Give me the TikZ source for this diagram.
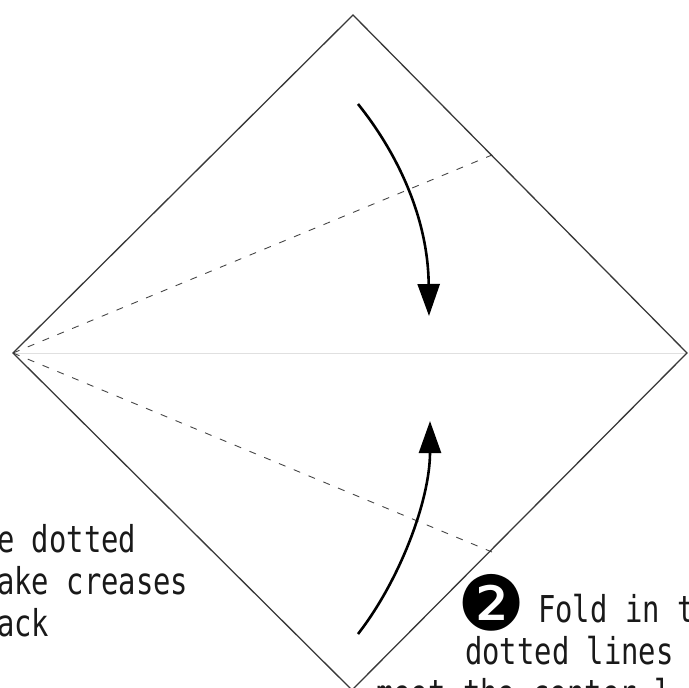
\documentclass[tikz,border=0pt]{standalone}
\usepackage{fontspec}
\usepackage{tikz}
\usetikzlibrary{arrows.meta, positioning, calc}
\newfontfamily\labelfont{DejaVu Sans Mono}
\newfontfamily\dingfont{DejaVu Sans}

\tikzset{
  edge/.style={draw=black!78, line width=1.3pt, line join=miter},
  centre/.style={draw=black!12, line width=1pt},
  crease/.style={draw=black!72, line width=0.9pt, dash pattern=on 7pt off 9pt},
  foldarrow/.style={line width=2.6pt, -{Triangle[length=32pt,width=22pt]}},
  caption/.style={font=\labelfont\fontsize{37}{43}\selectfont, xscale=0.78,
    anchor=base west, inner sep=0pt, text=black!90}
}

\begin{document}
\begin{tikzpicture}[x=1pt, y=-1pt]
  \useasboundingbox (0,0) rectangle (688,688);
  \clip (0,0) rectangle (688,688);

  % Square corners
  \coordinate (T) at (353,15);
  \coordinate (L) at (13,353);
  \coordinate (R) at (687,353);
  \coordinate (B) at (352,690);

  % Crease ends on the right edges
  \coordinate (P) at (492,155);
  \coordinate (Q) at (492,552);

  % Centre line
  \draw[centre] (L) -- (R);

  % Dotted fold lines
  \draw[crease] (L) -- (P);
  \draw[crease] (L) -- (Q);

  % Paper outline
  \draw[edge] (T) -- (R) -- (B) -- (L) -- cycle;

  % Fold arrows
  \coordinate (upperstart) at (358,104);
  \coordinate (upperend) at (429,316);
  \coordinate (lowerstart) at (358,634);
  \coordinate (lowerend) at (430,421);
  \draw[foldarrow] (upperstart) .. controls (395,150) and (428,215) .. (upperend);
  \draw[foldarrow] (lowerstart) .. controls (400,580) and (430,500) .. (lowerend);

  % Step 1 text (cut at the left)
  \node[caption] (stepone1) at (-3,552) {e dotted};
  \node[caption] (stepone2) at (-3,594) {ake creases};
  \node[caption] (stepone3) at (-3,636) {ack};

  % Step 2 text (cut at the right)
  \node[font=\dingfont\fontsize{76}{76}\selectfont, inner sep=0pt, text=black] (steptwonum) at (492,603) {❷};
  \node[caption] (steptwo1) at (538,622) {Fold in t};
  \node[caption] (steptwo2) at (465,664) {dotted lines};
  \node[caption] (steptwo3) at (376,706) {meet the center l};
\end{tikzpicture}
\end{document}
